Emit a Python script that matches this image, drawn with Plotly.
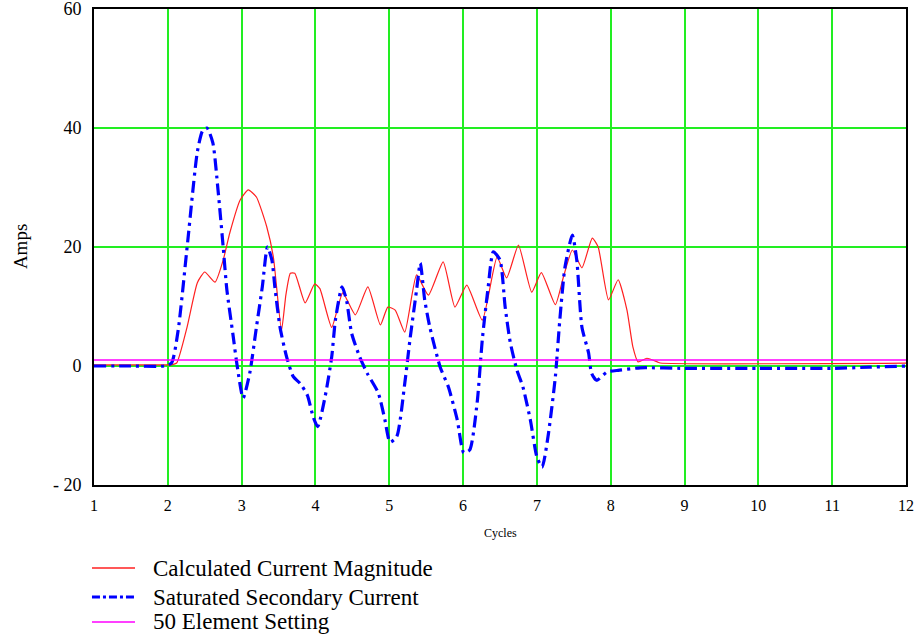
import plotly.graph_objects as go

# Cycles (x) and Amps (y)
calc_x = [1.0, 1.95, 2.05, 2.12, 2.26, 2.40, 2.50, 2.64, 2.75, 2.84, 2.98, 3.09, 3.20, 3.34, 3.43,
          3.54, 3.60, 3.66, 3.72, 3.86, 3.99, 4.06, 4.22, 4.37, 4.54, 4.71, 4.88, 4.98, 5.08, 5.21,
          5.37, 5.53, 5.73, 5.89, 6.05, 6.26, 6.46, 6.59, 6.75, 6.93, 7.06, 7.25, 7.36, 7.48, 7.61,
          7.75, 7.83, 7.97, 8.10, 8.22, 8.30, 8.37, 8.49, 8.63, 8.67, 12.0]
calc_y = [0.2, 0.2, 0.2, 0.5, 6.5, 14.0, 15.8, 14.1, 17.8, 22.4, 27.9, 29.6, 28.4, 23.4, 18.3,
          6.0, 12.0, 15.6, 15.6, 10.6, 13.8, 13.0, 6.5, 12.3, 8.6, 13.3, 6.9, 9.9, 9.4, 5.7,
          15.3, 11.9, 17.5, 9.9, 13.6, 7.7, 18.3, 14.8, 20.3, 12.4, 15.7, 10.3, 15.0, 19.5, 16.5,
          21.5, 20.0, 11.1, 14.5, 9.4, 3.2, 0.7, 1.3, 0.7, 0.5, 0.5]

sat_x = [1.0, 1.5, 1.95, 2.05, 2.14, 2.27, 2.40, 2.47, 2.53, 2.61, 2.68, 2.75, 2.80, 2.88, 2.94,
         3.02, 3.11, 3.20, 3.28, 3.35, 3.41, 3.45, 3.52, 3.61, 3.70, 3.79, 3.89, 3.97, 4.03, 4.13,
         4.22, 4.27, 4.36, 4.42, 4.49, 4.60, 4.70, 4.85, 4.94, 5.01, 5.10, 5.21, 5.28, 5.37, 5.42,
         5.48, 5.55, 5.69, 5.80, 5.92, 6.01, 6.09, 6.19, 6.26, 6.34, 6.41, 6.50, 6.57, 6.64, 6.73,
         6.81, 6.91, 7.00, 7.07, 7.15, 7.25, 7.31, 7.38, 7.48, 7.54, 7.61, 7.70, 7.74, 7.81, 7.95,
         8.12, 8.40, 9.0, 10.0, 11.0, 11.5, 12.0]
sat_y = [0.0, 0.0, 0.0, 0.5, 6.0, 21.0, 36.0, 39.5, 40.0, 37.5, 29.6, 20.0, 12.8, 5.5, 0.0,
         -5.4, -1.2, 6.5, 13.3, 20.0, 17.8, 13.3, 6.5, 1.5, -1.8, -2.9, -4.9, -8.6, -10.2, -5.2,
         1.5, 7.7, 13.3, 11.1, 5.5, 1.5, -1.2, -4.5, -9.0, -12.8, -11.9, -2.9, 4.4, 12.8, 17.3,
         11.1, 6.5, -0.2, -3.5, -9.0, -14.6, -14.1, -6.2, 4.4, 13.3, 19.2, 17.8, 9.9, 3.9, -0.7,
         -3.5, -9.0, -15.3, -17.0, -11.9, -1.8, 7.7, 16.6, 22.0, 17.8, 6.5, 2.2, -1.2, -2.4, -1.0,
         -0.7, -0.3, -0.4, -0.4, -0.4, -0.2, 0.0]

setting_x = [1.0, 12.0]
setting_y = [1.0, 1.0]

x_ticks = [1, 2, 3, 4, 5, 6, 7, 8, 9, 10, 11, 12]
y_ticks = [-20, 0, 20, 40, 60]
y_tick_text = ["- 20", "0", "20", "40", "60"]

series_names = ["Calculated Current Magnitude", "Saturated Secondary Current", "50 Element Setting"]
series_colors = ["#ff2020", "#0000ff", "#ff00ff"]
series_widths = [1.2, 3.2, 1.6]
series_dash = ["solid", "12px,5px,3px,5px", "solid"]

SERIF = "Liberation Serif, Times New Roman, serif"

fig = go.Figure()
fig.add_trace(go.Scatter(x=calc_x, y=calc_y, mode="lines", name=series_names[0],
                         line=dict(color=series_colors[0], width=series_widths[0],
                                   shape="spline", smoothing=0.5)))
fig.add_trace(go.Scatter(x=sat_x, y=sat_y, mode="lines", name=series_names[1],
                         line=dict(color=series_colors[1], width=series_widths[1],
                                   dash=series_dash[1], shape="spline", smoothing=0.6)))
fig.add_trace(go.Scatter(x=setting_x, y=setting_y, mode="lines", name=series_names[2],
                         line=dict(color=series_colors[2], width=series_widths[2])))

# legend drawn below the plot (sample line + label)
legend_y = [-0.1744, -0.2353, -0.2878]
for name, col, w, d, ly in zip(series_names, series_colors, series_widths, series_dash, legend_y):
    fig.add_shape(type="line", xref="paper", yref="paper", x0=-0.0025, x1=0.0505, y0=ly, y1=ly,
                  line=dict(color=col, width=max(w, 1.6) if w < 3 else w,
                            dash="8px,3px,3px,3px" if d != "solid" else "solid"))
    fig.add_annotation(text=name, xref="paper", yref="paper", x=0.0705, y=ly, xanchor="left",
                       yanchor="middle", showarrow=False,
                       font=dict(family=SERIF, size=23, color="black"))

fig.add_annotation(text="Amps", xref="paper", yref="paper", x=-0.0910, y=0.5, textangle=-90,
                   xanchor="center", yanchor="middle", showarrow=False,
                   font=dict(family=SERIF, size=19, color="black"))
fig.add_annotation(text="Cycles", xref="paper", yref="paper", x=0.5, y=-0.1008,
                   xanchor="center", yanchor="middle", showarrow=False,
                   font=dict(family=SERIF, size=12, color="black"))

fig.update_layout(
    template="none",
    width=922, height=637,
    margin=dict(l=94, r=16, t=9, b=152, autoexpand=False),
    paper_bgcolor="white", plot_bgcolor="white",
    font=dict(family=SERIF, color="black"),
    showlegend=False,
    xaxis=dict(range=[1, 12], tickvals=x_ticks, showgrid=True, gridcolor="#22ee22", gridwidth=1.5,
               zeroline=False, showline=True, linecolor="black", linewidth=2, mirror=True,
               automargin=False, ticks="", tickfont=dict(family=SERIF, size=16),
               ticklabelstandoff=5, ticklabeloverflow="allow"),
    yaxis=dict(range=[-20, 60], tickvals=y_ticks, ticktext=y_tick_text, showgrid=True,
               gridcolor="#22ee22", gridwidth=1.5, zeroline=False, showline=True,
               linecolor="black", linewidth=2, mirror=True, automargin=False, ticks="",
               tickfont=dict(family=SERIF, size=18), ticklabelstandoff=7,
               ticklabeloverflow="allow"),
)

fig.write_html("out.html", config={"displayModeBar": False},
               post_script="document.body.style.margin='0px';")
